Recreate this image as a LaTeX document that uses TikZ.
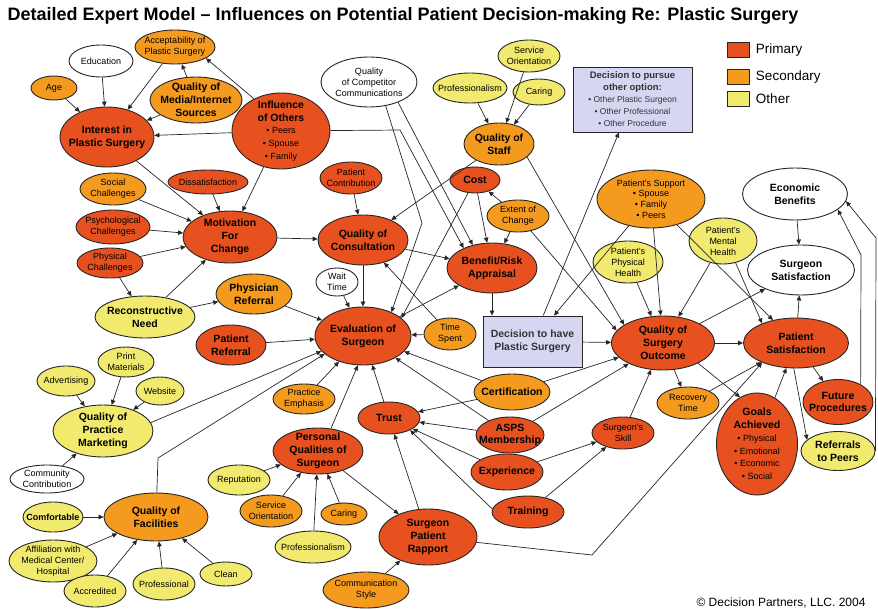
\documentclass[tikz,border=0pt]{standalone}
\usepackage{fontspec}
\setmainfont{Liberation Sans}
\usetikzlibrary{shapes.geometric,arrows.meta}

\definecolor{rankPrim}{HTML}{E6511F}
\definecolor{rankSec}{HTML}{F39A1F}
\definecolor{rankOth}{HTML}{F1EA6E}
\definecolor{choiceBox}{HTML}{D6D6F3}

\newcommand{\bul}[1]{{\mdseries\fontsize{9}{10.8}\selectfont • #1}}

\begin{document}
\begin{tikzpicture}[x=1pt,y=-1pt,
  bub/.style={ellipse,draw=black!85,line width=0.9pt,inner xsep=-14pt,inner ysep=-8pt,align=center},
  prim/.style={bub,fill=rankPrim},
  scnd/.style={bub,fill=rankSec},
  othr/.style={bub,fill=rankOth},
  blank/.style={bub,fill=white},
  choice/.style={rectangle,draw=black!85,line width=0.9pt,fill=choiceBox,align=center,inner sep=1pt,text=black!80},
  keybox/.style={rectangle,draw=black!85,line width=0.9pt,minimum width=22pt,minimum height=15pt,inner sep=0pt},
  big/.style={font=\bfseries\fontsize{10.5}{12.8}\selectfont},
  sml/.style={font=\fontsize{9}{10.8}\selectfont},
  sz/.style 2 args={minimum width=#1pt,minimum height=#2pt},
  arr/.style={-{Triangle[length=5pt,width=4.5pt]},line width=0.7pt,black!85}]
  \useasboundingbox (0,0) rectangle (878,610);

  \node[anchor=base west,font=\bfseries\fontsize{18}{20}\selectfont] (title) at (4,21)
    {Detailed Expert Model – Influences on Potential Patient Decision-making Re: Plastic Surgery};
  \foreach \c/\y/\t/\n in {rankPrim/50/Primary/P,rankSec/77/Secondary/S,rankOth/99/Other/O} {
    \node[keybox,fill=\c] (key\n) at (738,\y) {};
    \node[anchor=west,font=\fontsize{13.5}{16}\selectfont] (key\n txt) at ([xshift=3pt]key\n.east) {\t};
  }
  \node[anchor=base east,font=\fontsize{12}{14}\selectfont] (copy) at (869,606) {© Decision Partners, LLC. 2004};

  \node[scnd,sml,sz={80}{34}] (accept) at (175,47) {Acceptability of\\Plastic Surgery};
  \node[blank,sml,sz={64}{32}] (edu) at (101,61) {Education};
  \node[scnd,sml,sz={46}{24}] (age) at (54,88) {Age};
  \node[scnd,big,sz={92}{46}] (media) at (196,100) {Quality of\\Media/Internet\\Sources};
  \node[prim,big,sz={94}{60}] (interest) at (107,137) {Interest in\\Plastic Surgery};
  \node[prim,big,sz={98}{76}] (influ) at (281,131) {Influence\\of Others\\\bul{Peers}\\\bul{Spouse}\\\bul{Family}};
  \node[scnd,sml,sz={66}{32}] (social) at (113,189) {Social\\Challenges};
  \node[prim,sml,sz={80}{24}] (dissat) at (208,182) {Dissatisfaction};
  \node[prim,sml,sz={74}{34}] (psych) at (113,227) {Psychological\\Challenges};
  \node[prim,sml,sz={66}{30}] (physchal) at (110,263) {Physical\\Challenges};
  \node[prim,big,sz={94}{52}] (motiv) at (230,237) {Motivation\\For\\Change};
  \node[othr,big,sz={100}{42}] (recon) at (145,317) {Reconstructive\\Need};
  \node[scnd,big,sz={76}{40}] (physref) at (254,294) {Physician\\Referral};
  \node[prim,big,sz={70}{40}] (patref) at (231,345) {Patient\\Referral};
  \node[othr,sml,sz={56}{30}] (print) at (126,362) {Print\\Materials};
  \node[othr,sml,sz={58}{30}] (advert) at (66,381) {Advertising};
  \node[othr,sml,sz={48}{28}] (web) at (160,391) {Website};
  \node[othr,big,sz={100}{52}] (market) at (103,431) {Quality of\\Practice\\Marketing};
  \node[blank,sml,sz={74}{28}] (commun) at (47,479) {Community\\Contribution};
  \node[othr,sml,sz={60}{30},font=\bfseries\fontsize{9}{10.8}\selectfont] (comfort) at (53,517) {Comfortable};
  \node[scnd,big,sz={104}{48}] (facil) at (156,517) {Quality of\\Facilities};
  \node[othr,sml,sz={88}{42}] (affil) at (53,561) {Affiliation with\\Medical Center/\\Hospital};
  \node[othr,sml,sz={62}{32}] (accred) at (95,591) {Accredited};
  \node[othr,sml,sz={62}{32}] (profl) at (164,584) {Professional};
  \node[othr,sml,sz={52}{24}] (clean) at (226,574) {Clean};

  \node[blank,sml,sz={96}{50}] (compet) at (369,82) {Quality\\of Competitor\\Communications};
  \node[othr,sml,sz={62}{32}] (servA) at (529,56) {Service\\Orientation};
  \node[othr,sml,sz={74}{30}] (profA) at (470,88) {Professionalism};
  \node[othr,sml,sz={52}{26}] (caringA) at (539,92) {Caring};
  \node[scnd,big,sz={70}{42}] (staff) at (499,144) {Quality of\\Staff};
  \node[choice,sz={119}{65}] (pursue) at (632.5,99.5)
    {\bfseries\fontsize{9.5}{11.5}\selectfont Decision to pursue\\\bfseries\fontsize{9.5}{11.5}\selectfont other option:\\
     \fontsize{8.5}{10.5}\selectfont • Other Plastic Surgeon\\\fontsize{8.5}{10.5}\selectfont • Other Professional\\\fontsize{8.5}{10.5}\selectfont • Other Procedure};
  \node[prim,sml,sz={62}{32}] (contrib) at (351,178) {Patient\\Contribution};
  \node[prim,big,sz={50}{26}] (cost) at (475,180) {Cost};
  \node[scnd,sml,sz={62}{32}] (extent) at (518,216) {Extent of\\Change};
  \node[prim,big,sz={90}{50}] (consult) at (363,240) {Quality of\\Consultation};
  \node[prim,big,sz={90}{50}] (benefit) at (492,268) {Benefit/Risk\\Appraisal};
  \node[blank,sml,sz={42}{28}] (wait) at (337,282) {Wait\\Time};
  \node[prim,big,sz={96}{58}] (evalu) at (363,336) {Evaluation of\\Surgeon};
  \node[scnd,sml,sz={52}{32}] (timesp) at (450,334) {Time\\Spent};
  \node[choice,big,sz={99}{51}] (decide) at (532.5,341.5) {Decision to have\\Plastic Surgery};
  \node[scnd,sml,sz={62}{30}] (emph) at (304,399) {Practice\\Emphasis};
  \node[scnd,big,sz={76}{36}] (certif) at (512,392) {Certification};
  \node[prim,big,sz={62}{32}] (trust) at (389,418) {Trust};
  \node[prim,big,sz={68}{36}] (asps) at (510,435) {ASPS\\Membership};
  \node[prim,big,sz={72}{36}] (exper) at (507,472) {Experience};
  \node[prim,big,sz={72}{32}] (train) at (528,512) {Training};
  \node[prim,big,sz={90}{46}] (persq) at (318,451) {Personal\\Qualities of\\Surgeon};
  \node[othr,sml,sz={62}{30}] (reput) at (239,480) {Reputation};
  \node[scnd,sml,sz={62}{32}] (servB) at (271,511) {Service\\Orientation};
  \node[scnd,sml,sz={46}{22}] (caringB) at (344,514) {Caring};
  \node[othr,sml,sz={76}{32}] (profB) at (313,547) {Professionalism};
  \node[prim,big,sz={98}{56}] (rapport) at (428,537) {Surgeon\\Patient\\Rapport};
  \node[scnd,sml,sz={86}{36}] (commst) at (366,590) {Communication\\Style};
  \node[prim,sml,sz={62}{32}] (skill) at (623,433) {Surgeon’s\\Skill};
  \node[scnd,sml,sz={62}{32}] (recov) at (688,403) {Recovery\\Time};
  \node[prim,big,sz={103}{54}] (qso) at (663,343) {Quality of\\Surgery\\Outcome};
  \node[scnd,sml,sz={108}{58}] (support) at (651,199) {Patient’s Support\\• Spouse\\• Family\\• Peers};
  \node[othr,sml,sz={70}{42}] (physh) at (628,262) {Patient’s\\Physical\\Health};
  \node[othr,sml,sz={68}{46}] (menth) at (723,241) {Patient’s\\Mental\\Health};
  \node[blank,big,sz={105}{52}] (econ) at (795,194) {Economic\\Benefits};
  \node[blank,big,sz={107}{50}] (surgsat) at (801,270) {Surgeon\\Satisfaction};
  \node[prim,big,sz={105}{50}] (psatis) at (796,343) {Patient\\Satisfaction};
  \node[prim,big,sz={81}{102}] (goals) at (757,444) {Goals\\Achieved\\\bul{Physical}\\\bul{Emotional}\\\bul{Economic}\\\bul{Social}};
  \node[prim,big,sz={70}{45}] (future) at (838,402) {Future\\Procedures};
  \node[othr,big,sz={74}{39}] (refer) at (838,451) {Referrals\\to Peers};

  \coordinate (ibend) at (400,130);
  \coordinate (cbend) at (422,223);
  \coordinate (fbend) at (158,458);
  \coordinate (rbend) at (592,555);
  \coordinate (fubend) at (861,255);
  \coordinate (rfbend) at (876,238);

  \foreach \a/\b in {edu/interest,age/interest,accept/interest,media/interest,media/accept,
      influ/interest,influ/motiv,interest/motiv,social/motiv,dissat/motiv,psych/motiv,
      physchal/motiv,physchal/recon,recon/motiv,recon/physref,motiv/consult,contrib/consult,
      staff/consult,consult/benefit,consult/evalu,wait/evalu,timesp/evalu,timesp/consult,
      cost/benefit,extent/cost,extent/benefit,evalu/benefit,profA/staff,servA/staff,caringA/staff,
      physref/evalu,patref/evalu,emph/evalu,trust/evalu,certif/evalu,asps/evalu,
      certif/trust,asps/trust,exper/trust,rapport/trust,persq/rapport,commst/rapport,
      reput/persq,servB/persq,profB/persq,caringB/persq,print/market,advert/market,web/market,
      commun/market,comfort/facil,affil/facil,accred/facil,profl/facil,clean/facil,
      exper/skill,train/skill,skill/qso,certif/qso,asps/qso,decide/qso,decide/pursue,
      support/decide,support/qso,support/psatis,physh/qso,menth/qso,qso/psatis,qso/surgsat,
      qso/recov,recov/psatis,goals/psatis,psatis/surgsat,econ/surgsat,psatis/future}
    \draw[arr] (\a) -- (\b);

  \draw[arr] (influ.130) -- (accept.-20);
  \draw[arr] (influ) -- (ibend) -- (benefit.145);
  \draw[arr] (compet.-35) -- (benefit.130);
  \draw[arr] (compet.-55) -- (cbend) -- (evalu.40);
  \draw[arr] (cost) -- (evalu.25);
  \draw[arr] (staff.-25) -- (qso.155);
  \draw[arr] (extent) -- (qso.165);
  \draw[arr] (benefit.south) -- (benefit.south |- decide.north);
  \draw[arr] (market.10) -- (evalu.200);
  \draw[arr] (facil) -- (fbend) -- (evalu.205);
  \draw[arr] (persq.60) -- (evalu.-100);
  \draw[arr] (train.175) -- (trust.-30);
  \draw[arr] (menth.-60) -- (psatis.150);
  \draw[arr] (qso.-30) -- (goals.110);
  \draw[arr] (rapport) -- (rbend) -- (psatis.-150);
  \draw[arr] (psatis.-95) -- (refer.160);
  \draw[arr] (future.38) -- (fubend) -- (econ.-20);
  \draw[arr] (refer.east) -- (rfbend) -- (econ.-8);
\end{tikzpicture}
\end{document}
